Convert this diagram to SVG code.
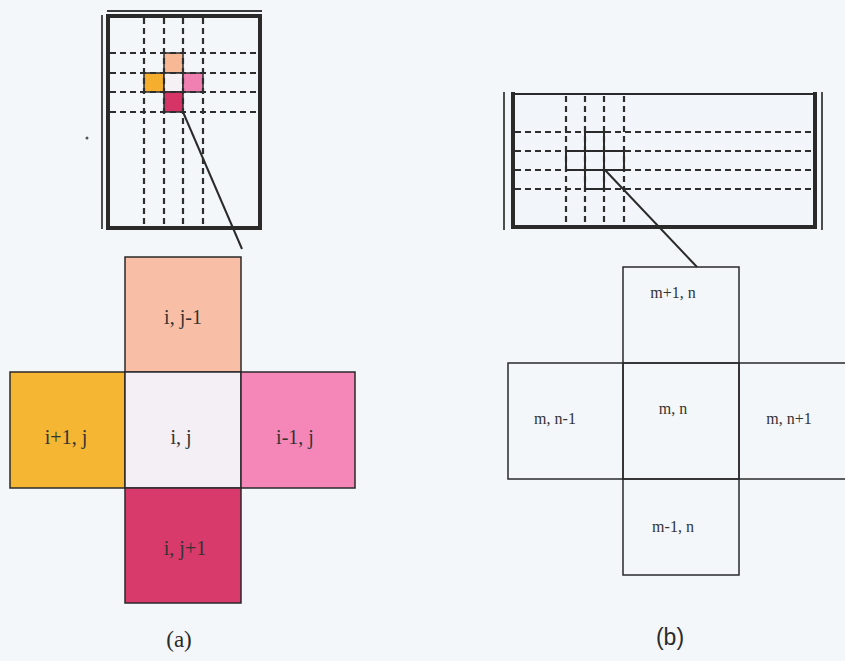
<svg xmlns="http://www.w3.org/2000/svg" width="845" height="661" viewBox="0 0 845 661">
<defs>
<style>
.frame{fill:none;stroke:#2a2a2a;stroke-width:4}
.thin{fill:none;stroke:#3a3a3a;stroke-width:1.8}
.dash{fill:none;stroke:#2e2e2e;stroke-width:2.2;stroke-dasharray:6,4}
.solid{fill:none;stroke:#2a2a2a;stroke-width:2}
.cell{stroke:#2a2a2a;stroke-width:1.5}
.conn{fill:none;stroke:#2a2a2a;stroke-width:2}
.lbl{font-family:"Liberation Serif",serif;font-size:20px;fill:#333333;text-anchor:middle}
.lblb{font-family:"Liberation Serif",serif;font-size:16px;fill:#333333;text-anchor:middle}
.capa{font-family:"Liberation Serif",serif;font-size:23px;fill:#2a2a2a;text-anchor:middle}
.capb{font-family:"Liberation Sans",sans-serif;font-size:23px;fill:#2a2a2a;text-anchor:middle}
</style>
</defs>
<rect x="0" y="0" width="845" height="661" fill="#f3f7fa"/>
<circle cx="87" cy="138" r="1.5" fill="#555"/>

<!-- (a) overview grid -->
<g id="gridA">
<rect x="108" y="16" width="152" height="212" fill="#f2f6fa" class="frame"/>
<line x1="107" y1="11" x2="262" y2="11" class="thin"/>
<line x1="102" y1="15" x2="102" y2="229" class="thin"/>
<rect x="164" y="53" width="19" height="20" fill="#f7b896" class="cell"/>
<rect x="144" y="73" width="20" height="19" fill="#f5ae2e" class="cell"/>
<rect x="164" y="73" width="19" height="19" fill="#f4f0f4" class="cell"/>
<rect x="183" y="73" width="20" height="19" fill="#f07fb2" class="cell"/>
<rect x="164" y="92" width="19" height="20" fill="#d63466" class="cell"/>
<g class="dash">
<line x1="144" y1="18" x2="144" y2="226"/>
<line x1="164" y1="18" x2="164" y2="226"/>
<line x1="183" y1="18" x2="183" y2="226"/>
<line x1="203" y1="18" x2="203" y2="226"/>
<line x1="110" y1="53" x2="258" y2="53"/>
<line x1="110" y1="73" x2="258" y2="73"/>
<line x1="110" y1="92" x2="258" y2="92"/>
<line x1="110" y1="112" x2="258" y2="112"/>
</g>
</g>

<!-- (b) overview grid -->
<g id="gridB">
<rect x="513" y="94" width="302" height="133" fill="#f2f6fa" stroke="none"/>
<line x1="513" y1="94" x2="815" y2="94" stroke="#2a2a2a" stroke-width="2"/>
<line x1="511" y1="227" x2="817" y2="227" stroke="#2a2a2a" stroke-width="4"/>
<line x1="513" y1="92" x2="513" y2="229" stroke="#2a2a2a" stroke-width="4"/>
<line x1="815" y1="92" x2="815" y2="229" stroke="#2a2a2a" stroke-width="4"/>
<line x1="504" y1="92" x2="504" y2="230" class="thin"/>
<line x1="822" y1="92" x2="822" y2="230" class="thin"/>
<g class="dash">
<line x1="566" y1="96" x2="566" y2="225"/>
<line x1="585" y1="96" x2="585" y2="225"/>
<line x1="604" y1="96" x2="604" y2="225"/>
<line x1="624" y1="96" x2="624" y2="225"/>
<line x1="515" y1="132" x2="813" y2="132"/>
<line x1="515" y1="151" x2="813" y2="151"/>
<line x1="515" y1="170" x2="813" y2="170"/>
<line x1="515" y1="189" x2="813" y2="189"/>
</g>
<path class="solid" d="M585,132 H604 V151 H624 V170 H604 V189 H585 V170 H566 V151 H585 Z M585,151 H604 V170 H585 Z"/>
</g>

<!-- connectors -->
<g id="connectors">
<line x1="183" y1="112" x2="242" y2="249" class="conn"/>
<line x1="605" y1="170" x2="697" y2="267" class="conn"/>
</g>

<!-- (a) stencil -->
<g id="a_top"><rect x="125" y="257" width="116" height="115" fill="#f9bfa6" class="cell"/><text x="183" y="324" class="lbl">i, j-1</text></g>
<g id="a_left"><rect x="10" y="372" width="115" height="116" fill="#f5b634" class="cell"/><text x="66" y="444" class="lbl">i+1, j</text></g>
<g id="a_center"><rect x="125" y="372" width="116" height="116" fill="#f3eff4" class="cell"/><text x="181" y="444" class="lbl">i, j</text></g>
<g id="a_right"><rect x="241" y="372" width="114" height="116" fill="#f586b8" class="cell"/><text x="295" y="444" class="lbl">i-1, j</text></g>
<g id="a_bottom"><rect x="125" y="488" width="116" height="115" fill="#d83a6c" class="cell"/><text x="185" y="555" class="lbl">i, j+1</text></g>

<!-- (b) stencil -->
<g id="b_top"><rect x="623" y="267" width="116" height="96" fill="none" class="cell"/><text x="673" y="298" class="lblb">m+1, n</text></g>
<g id="b_left"><rect x="508" y="363" width="115" height="116" fill="none" class="cell"/><text x="555" y="424" class="lblb">m, n-1</text></g>
<g id="b_center"><rect x="623" y="363" width="116" height="116" fill="none" class="cell"/><text x="673" y="414" class="lblb">m, n</text></g>
<g id="b_right"><rect x="739" y="363" width="110" height="116" fill="none" class="cell"/><text x="789" y="424" class="lblb">m, n+1</text></g>
<g id="b_bottom"><rect x="623" y="479" width="116" height="96" fill="none" class="cell"/><text x="673" y="532" class="lblb">m-1, n</text></g>

<text x="179" y="647" class="capa">(a)</text>
<text x="670" y="645" class="capb">(b)</text>
</svg>
